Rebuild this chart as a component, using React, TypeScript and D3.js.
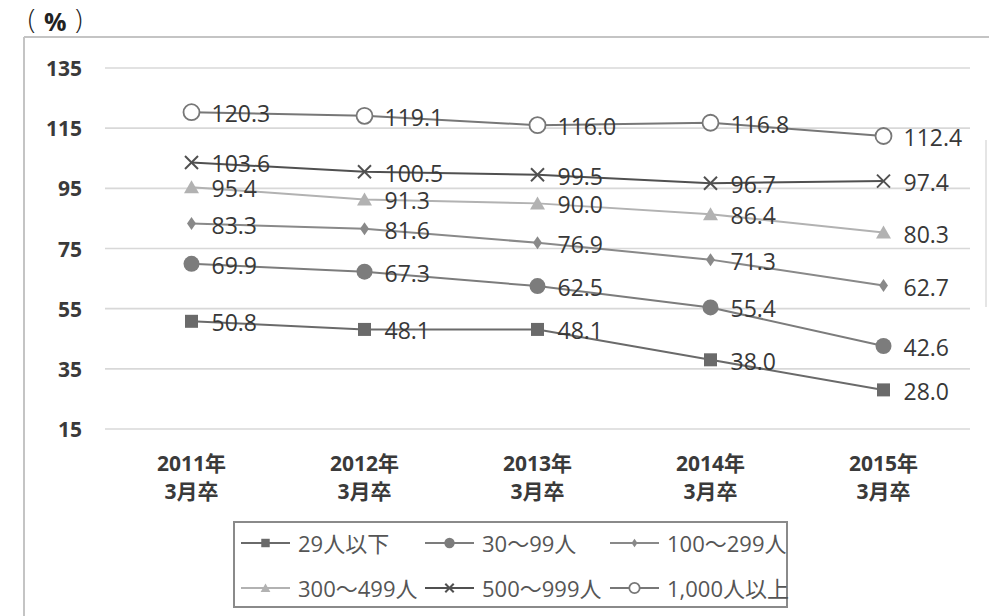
import React from "react";
import * as d3 from "d3";

// Graduation cohorts (x axis, two-line labels)
const years = ["2011年", "2012年", "2013年", "2014年", "2015年"];
const cohortSuffix = "3月卒";

// Y axis ticks (%)
const yTicks = [15, 35, 55, 75, 95, 115, 135];

// Series by company size
const seriesNames = ["29人以下", "30～99人", "100～299人", "300～499人", "500～999人", "1,000人以上"];
const under29 = [50.8, 48.1, 48.1, 38.0, 28.0];
const from30to99 = [69.9, 67.3, 62.5, 55.4, 42.6];
const from100to299 = [83.3, 81.6, 76.9, 71.3, 62.7];
const from300to499 = [95.4, 91.3, 90.0, 86.4, 80.3];
const from500to999 = [103.6, 100.5, 99.5, 96.7, 97.4];
const over1000 = [120.3, 119.1, 116.0, 116.8, 112.4];

type Shape = "square" | "dot" | "diamond" | "triangle" | "cross" | "ring";

const seriesStyles: { color: string; shape: Shape }[] = [
  { color: "#6a6a6a", shape: "square" },
  { color: "#7c7c7c", shape: "dot" },
  { color: "#898989", shape: "diamond" },
  { color: "#b2b2b2", shape: "triangle" },
  { color: "#505050", shape: "cross" },
  { color: "#777777", shape: "ring" },
];

const seriesValues = [under29, from30to99, from100to299, from300to499, from500to999, over1000];

const W = 989;
const H = 616;

const x = d3.scaleBand<string>().domain(years).range([105, 970]);
const y = d3.scaleLinear().domain([15, 135]).range([429, 68]);
const cx = (c: string) => (x(c) ?? 0) + x.bandwidth() / 2;

const line = d3
  .line<[number, number]>()
  .x((d) => d[0])
  .y((d) => d[1]);

function Marker({ shape, color, px, py, s }: { shape: Shape; color: string; px: number; py: number; s: number }) {
  switch (shape) {
    case "square":
      return <rect x={px - 6.5 * s} y={py - 6.5 * s} width={13 * s} height={13 * s} fill={color} />;
    case "dot":
      return <circle cx={px} cy={py} r={8 * s} fill={color} />;
    case "diamond":
      return (
        <path
          d={`M${px},${py - 6.5 * s}L${px + 4.5 * s},${py}L${px},${py + 6.5 * s}L${px - 4.5 * s},${py}Z`}
          fill={color}
        />
      );
    case "triangle":
      return (
        <path
          d={`M${px},${py - 7 * s}L${px + 7.5 * s},${py + 6 * s}L${px - 7.5 * s},${py + 6 * s}Z`}
          fill={color}
        />
      );
    case "cross":
      return (
        <g stroke={color} strokeWidth={2}>
          <line x1={px - 6.5 * s} y1={py - 6.5 * s} x2={px + 6.5 * s} y2={py + 6.5 * s} />
          <line x1={px - 6.5 * s} y1={py + 6.5 * s} x2={px + 6.5 * s} y2={py - 6.5 * s} />
        </g>
      );
    case "ring":
      return <circle cx={px} cy={py} r={8 * s} fill="#fff" stroke={color} strokeWidth={1.8} />;
  }
}

const numFont = "'Open Sans', 'Noto Sans CJK JP', sans-serif";

// Legend layout: two rows of three entries
const legendCols = [241, 425, 610];
const legendRows = [543, 588];

export default function App() {
  return (
    <svg
      width={W}
      height={H}
      viewBox={`0 0 ${W} ${H}`}
      style={{ position: "absolute", left: 0, top: 0, background: "#fff" }}
    >
      {/* unit */}
      <g fontFamily={numFont} fill="#222">
        <text x={28} y={29} fontSize={27} fontWeight={300}>(</text>
        <text x={44} y={31} fontSize={25} fontWeight={700}>%</text>
        <text x={75} y={29} fontSize={27} fontWeight={300}>)</text>
      </g>

      {/* chart frame */}
      <line x1={24} y1={37} x2={989} y2={37} stroke="#c4c4c4" strokeWidth={2} />
      <line x1={24} y1={37} x2={24} y2={616} stroke="#c4c4c4" strokeWidth={2} />
      <line x1={986} y1={140} x2={986} y2={307} stroke="#dddddd" strokeWidth={1.5} />

      {/* grid + y ticks */}
      {yTicks.map((t) => (
        <g key={t}>
          <line x1={105} x2={970} y1={y(t)} y2={y(t)} stroke="#d8d8d8" strokeWidth={1.6} />
          <text
            x={82}
            y={y(t)}
            textAnchor="end"
            dominantBaseline="central"
            fontFamily={numFont}
            fontWeight={700}
            fontSize={21}
            fill="#3a3a3a"
          >
            {t}
          </text>
        </g>
      ))}

      {/* x labels */}
      {years.map((c) => (
        <g key={c} fontFamily={numFont} fontWeight={700} fontSize={21} fill="#3a3a3a" textAnchor="middle">
          <text x={cx(c)} y={463} dominantBaseline="central">
            {c}
          </text>
          <text x={cx(c)} y={491} dominantBaseline="central">
            {cohortSuffix}
          </text>
        </g>
      ))}

      {/* lines */}
      {seriesValues.map((vals, i) => (
        <path
          key={`l${i}`}
          d={line(years.map((c, j) => [cx(c), y(vals[j])] as [number, number])) ?? ""}
          fill="none"
          stroke={seriesStyles[i].color}
          strokeWidth={2}
        />
      ))}

      {/* markers */}
      {seriesValues.map((vals, i) =>
        years.map((c, j) => (
          <Marker
            key={`m${i}-${j}`}
            shape={seriesStyles[i].shape}
            color={seriesStyles[i].color}
            px={cx(c)}
            py={y(vals[j])}
            s={1}
          />
        ))
      )}

      {/* data labels */}
      {seriesValues.map((vals, i) =>
        years.map((c, j) => (
          <text
            key={`t${i}-${j}`}
            x={cx(c) + 20}
            y={y(vals[j]) + 1}
            dominantBaseline="central"
            fontFamily={numFont}
            fontSize={23}
            fill="#383838"
          >
            {vals[j].toFixed(1)}
          </text>
        ))
      )}

      {/* legend */}
      <rect x={234} y={522} width={553} height={85} fill="none" stroke="#8a8a8a" strokeWidth={2} />
      {seriesNames.map((name, i) => {
        const col = i % 3;
        const row = Math.floor(i / 3);
        const sx = legendCols[col];
        const ly = legendRows[row];
        const st = seriesStyles[i];
        return (
          <g key={name}>
            <line x1={sx} x2={sx + 49} y1={ly} y2={ly} stroke={st.color} strokeWidth={2} />
            <Marker shape={st.shape} color={st.color} px={sx + 24.5} py={ly} s={0.65} />
            <text
              x={sx + 57}
              y={ly}
              dominantBaseline="central"
              fontFamily={numFont}
              fontSize={22}
              fill="#555"
            >
              {name}
            </text>
          </g>
        );
      })}
    </svg>
  );
}
